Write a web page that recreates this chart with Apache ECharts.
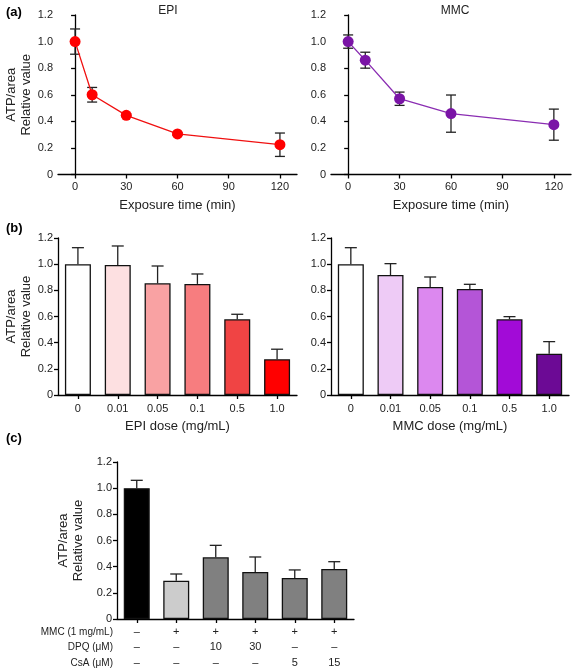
<!DOCTYPE html>
<html><head><meta charset="utf-8">
<script src="https://cdn.jsdelivr.net/npm/echarts@6/dist/echarts.min.js"></script>
<style>html,body{margin:0;padding:0;background:#fff}#c{width:572px;height:668px}</style>
</head><body><div id="c"></div>
<script>
// ---- data ----
const timePoints = [0, 10, 30, 60, 120];
const timeTicks = [0, 30, 60, 90, 120];
const epiTime = [1.0, 0.60, 0.445, 0.305, 0.224];
const epiTimeErr = [0.095, 0.055, 0.01, 0.01, 0.088];
const mmcTime = [1.0, 0.86, 0.57, 0.458, 0.375];
const mmcTimeErr = [0.05, 0.06, 0.05, 0.14, 0.117];

const doseLabels = ['0', '0.01', '0.05', '0.1', '0.5', '1.0'];
const epiDose = [1.0, 0.994, 0.854, 0.849, 0.579, 0.273];
const epiDoseErr = [0.126, 0.145, 0.132, 0.076, 0.038, 0.077];
const mmcDose = [1.0, 0.917, 0.826, 0.81, 0.579, 0.316];
const mmcDoseErr = [0.126, 0.087, 0.076, 0.036, 0.02, 0.092];

const cRowTitles = ['MMC (1 mg/mL)', 'DPQ (μM)', 'CsA (μM)'];
const cRowMMC = ['–', '+', '+', '+', '+', '+'];
const cRowDPQ = ['–', '–', '10', '30', '–', '–'];
const cRowCsA = ['–', '–', '–', '–', '5', '15'];
const cValues = [1.0, 0.293, 0.472, 0.359, 0.313, 0.382];
const cErr = [0.06, 0.051, 0.091, 0.115, 0.062, 0.056];

const epiDoseColors = ['#ffffff', '#fde0e1', '#f9a2a3', '#f77d7f', '#f04444', '#ff0000'];
const mmcDoseColors = ['#ffffff', '#eecbf6', '#dc88ef', '#b455d7', '#a20bd7', '#6c0a95'];
const cColors = ['#000000', '#cccccc', '#808080', '#808080', '#808080', '#808080'];

// ---- build ----
const FONT = 'Liberation Sans';
const axisLine = {show: true, lineStyle: {color: '#000', width: 1.3}};
const axisTick = {show: true, length: 4, lineStyle: {color: '#000', width: 1.3}};

function yAxis(gridIndex, nameGap) {
  return {
    type: 'value', gridIndex, min: 0, max: 1.2, interval: 0.2,
    axisLine, axisTick, splitLine: {show: false},
    axisLabel: {fontFamily: FONT, fontSize: 11, color: '#222', margin: 5,
      formatter: v => v === 0 ? '0' : v.toFixed(1)},
    name: nameGap ? 'ATP/area\nRelative value' : '',
    nameLocation: 'middle', nameGap: nameGap || 0, nameRotate: 90,
    nameTextStyle: {fontFamily: FONT, fontSize: 13, color: '#222', lineHeight: 15}
  };
}
function timeXAxis(gridIndex) {
  return {
    type: 'value', gridIndex, min: -10, max: 130,
    axisLine, splitLine: {show: false},
    axisTick: Object.assign({customValues: timeTicks}, axisTick),
    axisLabel: {customValues: timeTicks, fontFamily: FONT, fontSize: 11, color: '#222', margin: 7},
    name: 'Exposure time (min)', nameLocation: 'middle', nameGap: 24,
    nameTextStyle: {fontFamily: FONT, fontSize: 13, color: '#222'}
  };
}
function catXAxis(gridIndex, labels, name, extra) {
  return Object.assign({
    type: 'category', gridIndex, data: labels,
    axisLine, axisTick: Object.assign({alignWithLabel: true}, axisTick),
    axisLabel: {fontFamily: FONT, fontSize: 11, color: '#222', margin: 8, interval: 0},
    name: name, nameLocation: 'middle', nameGap: 25,
    nameTextStyle: {fontFamily: FONT, fontSize: 13, color: '#222'}
  }, extra || {});
}
function errSeries(xi, yi, data, both, cap) {
  return {
    type: 'custom', xAxisIndex: xi, yAxisIndex: yi, z: 1, silent: true,
    data: data,
    renderItem: function (params, api) {
      const x = api.value(0), v = api.value(1), e = api.value(2);
      const top = api.coord([x, v + e]);
      const bot = api.coord([x, both ? v - e : v]);
      const st = {stroke: '#222', lineWidth: 1.3};
      const ch = [
        {type: 'line', shape: {x1: top[0], y1: top[1], x2: bot[0], y2: bot[1]}, style: st},
        {type: 'line', shape: {x1: top[0] - cap, y1: top[1], x2: top[0] + cap, y2: top[1]}, style: st}
      ];
      if (both) ch.push({type: 'line', shape: {x1: bot[0] - cap, y1: bot[1], x2: bot[0] + cap, y2: bot[1]}, style: st});
      return {type: 'group', children: ch};
    }
  };
}
function barSeries(xi, yi, vals, colors) {
  return {
    type: 'bar', xAxisIndex: xi, yAxisIndex: yi, barWidth: 26, z: 2,
    data: vals.map((v, i) => ({value: v, itemStyle: {color: colors[i], borderColor: '#111', borderWidth: 1.3}}))
  };
}
function lineSeries(xi, yi, xs, ys, color, lineColor) {
  return {
    type: 'line', xAxisIndex: xi, yAxisIndex: yi, z: 3,
    data: xs.map((x, i) => [x, ys[i]]),
    symbol: 'circle', symbolSize: 11,
    itemStyle: {color: color}, lineStyle: {color: lineColor, width: 1.3}
  };
}

const cLabels = cRowMMC.map((m, i) => m + '\n' + cRowDPQ[i] + '\n' + cRowCsA[i]);

const option = {
  animation: false,
  title: [
    {text: 'EPI', left: 163, top: 0, textAlign: 'center', textStyle: {fontFamily: FONT, fontSize: 12, fontWeight: 'normal', color: '#222'}},
    {text: 'MMC', left: 450, top: 0, textAlign: 'center', textStyle: {fontFamily: FONT, fontSize: 12, fontWeight: 'normal', color: '#222'}},
    {text: '(a)', left: 1, top: 1, textStyle: {fontFamily: FONT, fontSize: 13, fontWeight: 'bold', color: '#000'}},
    {text: '(b)', left: 1, top: 217, textStyle: {fontFamily: FONT, fontSize: 13, fontWeight: 'bold', color: '#000'}},
    {text: '(c)', left: 1, top: 427, textStyle: {fontFamily: FONT, fontSize: 13, fontWeight: 'bold', color: '#000'}}
  ],
  grid: [
    {left: 58, top: 15, width: 239, height: 159.5, outerBoundsMode: 'none'},
    {left: 331, top: 15, width: 240, height: 159.5, outerBoundsMode: 'none'},
    {left: 58, top: 238, width: 239, height: 157, outerBoundsMode: 'none'},
    {left: 331, top: 238, width: 238, height: 157, outerBoundsMode: 'none'},
    {left: 117, top: 462, width: 237, height: 157, outerBoundsMode: 'none'}
  ],
  xAxis: [
    timeXAxis(0),
    timeXAxis(1),
    catXAxis(2, doseLabels, 'EPI dose (mg/mL)'),
    catXAxis(3, doseLabels, 'MMC dose (mg/mL)'),
    catXAxis(4, cLabels, '', {axisLabel: {fontFamily: FONT, fontSize: 11, color: '#222', margin: 5, interval: 0, lineHeight: 15.5}})
  ],
  yAxis: [yAxis(0, 21), yAxis(1, 0), yAxis(2, 21), yAxis(3, 0), yAxis(4, 31)],
  graphic: cRowTitles.map((t, i) => ({
    type: 'text', right: 572 - 113, top: 627 + i * 15.5,
    style: {text: t, fontFamily: FONT, fontSize: 10, fill: '#222', textAlign: 'right'}
  })),
  series: [
    errSeries(0, 0, timePoints.map((x, i) => [x, epiTime[i], epiTimeErr[i]]), true, 5),
    lineSeries(0, 0, timePoints, epiTime, '#ff0000', '#f01010'),
    errSeries(1, 1, timePoints.map((x, i) => [x, mmcTime[i], mmcTimeErr[i]]), true, 5),
    lineSeries(1, 1, timePoints, mmcTime, '#7a14a6', '#8a2db2'),
    barSeries(2, 2, epiDose, epiDoseColors),
    errSeries(2, 2, epiDose.map((v, i) => [i, v, epiDoseErr[i]]), false, 6),
    barSeries(3, 3, mmcDose, mmcDoseColors),
    errSeries(3, 3, mmcDose.map((v, i) => [i, v, mmcDoseErr[i]]), false, 6),
    barSeries(4, 4, cValues, cColors),
    errSeries(4, 4, cValues.map((v, i) => [i, v, cErr[i]]), false, 6)
  ]
};
const chart = echarts.init(document.getElementById('c'), null, {renderer: 'canvas'});
chart.setOption(option);
</script>
</body></html>
